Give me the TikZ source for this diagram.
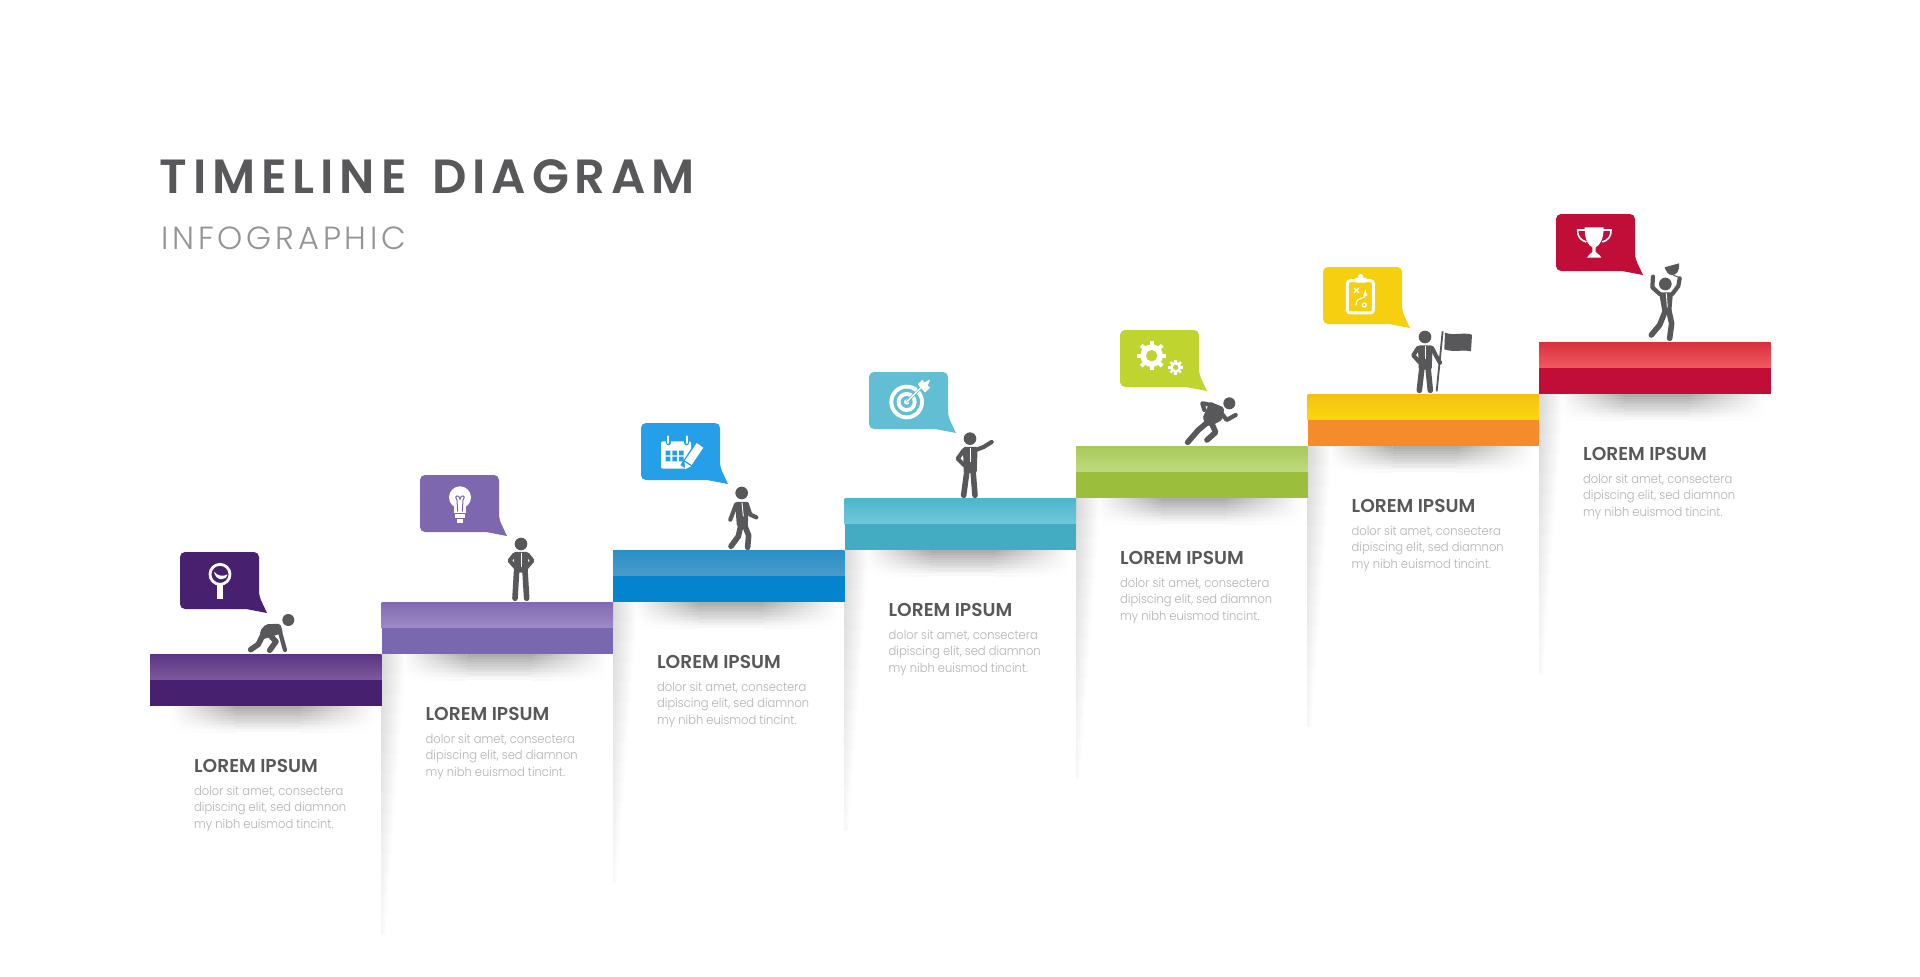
\documentclass[tikz,border=0pt]{standalone}
\usepackage{fontspec}
\setmainfont{Poppins}
\newfontfamily\titlefont[UprightFont=* SemiBold,LetterSpace=12.2]{Poppins}
\newfontfamily\subfont[UprightFont=* Light,LetterSpace=12]{Poppins}
\newfontfamily\headfont[UprightFont=* SemiBold]{Poppins}
\newfontfamily\blurbfont[UprightFont=* Light,FakeStretch=0.92]{Poppins}
\definecolor{figgray}{HTML}{58585A}
\definecolor{s1a}{HTML}{5B3585}\definecolor{s1b}{HTML}{7D5A9E}\definecolor{s1c}{HTML}{47206F}
\definecolor{s2a}{HTML}{8069B3}\definecolor{s2b}{HTML}{9D8CC4}\definecolor{s2c}{HTML}{7967B0}
\definecolor{s3a}{HTML}{2A8FC9}\definecolor{s3b}{HTML}{4A9CCA}\definecolor{s3c}{HTML}{0484CD}
\definecolor{s4a}{HTML}{4FB5CA}\definecolor{s4b}{HTML}{70C8DA}\definecolor{s4c}{HTML}{43ABC2}
\definecolor{s5a}{HTML}{A8C95A}\definecolor{s5b}{HTML}{BEDB7D}\definecolor{s5c}{HTML}{9BBF3C}
\definecolor{s6a}{HTML}{F6BF14}\definecolor{s6b}{HTML}{F9D90E}\definecolor{s6c}{HTML}{F68B2C}
\definecolor{s7a}{HTML}{D8303A}\definecolor{s7b}{HTML}{F25A62}\definecolor{s7c}{HTML}{C10E39}
\definecolor{b1}{HTML}{47206F}\definecolor{b2}{HTML}{7D68B0}\definecolor{b3}{HTML}{259FE8}
\definecolor{b4}{HTML}{62BED2}\definecolor{b5}{HTML}{BFD42E}\definecolor{b6}{HTML}{F5CF10}\definecolor{b7}{HTML}{C10E39}
\begin{document}
\begin{tikzpicture}[x=1pt,y=-1pt]
  \tikzset{ figleg/.style={draw=figgray,line width=5.6pt,line cap=round,line join=round},
    figarm/.style={draw=figgray,line width=4.2pt,line cap=round,line join=round},
    figtorso/.style={fill=figgray,rounded corners=2pt},
    figtie/.style={draw=white,line width=0.9pt},
    headtext/.style={anchor=base west,inner sep=0pt,text=figgray,font=\headfont\fontsize{18.6}{20}\selectfont},
    bodytext/.style={anchor=north west,inner sep=0pt,align=left,text=black!30,font=\blurbfont\fontsize{12.5}{16.7}\selectfont},
  }
  \useasboundingbox (0,0) rectangle (1920,977);
  \fill[white] (0,0) rectangle (1920,977);

  \node[anchor=base west,inner sep=0pt,text=figgray,font=\titlefont\fontsize{48}{50}\selectfont] (title) at (159.5,193) {TIMELINE\hspace{8.5pt} DIAGRAM};
  \node[anchor=base west,inner sep=0pt,text=black!42,font=\subfont\fontsize{32}{34}\selectfont] (subtitle) at (161,249) {INFOGRAPHIC};

  % the shadows first, the steps lie over them
  \foreach \i in {1,...,7}{
    \pgfmathsetmacro\sx{150+231.5*(\i-1)}
    \pgfmathsetmacro\sy{654-52*(\i-1)}
    \foreach \k in {0,...,9}{
      \pgfmathsetmacro\shv{32-3.3*\k}
      \pgfmathsetmacro\rowa{\sy+52+2.6*\k}
      \pgfmathsetmacro\rowb{\rowa+2.8}
      \shade[left color=white,right color=black!\shv] ({\sx+20},\rowa) rectangle ({\sx+85},\rowb);
      \fill[black!\shv] ({\sx+85},\rowa) rectangle ({\sx+150},\rowb);
      \shade[left color=black!\shv,right color=white] ({\sx+150},\rowa) rectangle ({\sx+226},\rowb);
    }
    \ifnum\i>1
      \foreach \k in {0,...,13}{
        \pgfmathsetmacro\slw{24-1.5*\k}
        \pgfmathsetmacro\slv{15-0.9*\k}
        \shade[left color=black!\slv,right color=white] (\sx,{\sy+52+20*\k}) rectangle ({\sx+\slw},{\sy+72.2+20*\k});
      }
    \fi
  }

  % the steps with their texts
  \foreach \i/\cA/\cB/\cC in {1/s1a/s1b/s1c,2/s2a/s2b/s2c,3/s3a/s3b/s3c,4/s4a/s4b/s4c,5/s5a/s5b/s5c,6/s6a/s6b/s6c,7/s7a/s7b/s7c}{
    \pgfmathsetmacro\sx{150+231.5*(\i-1)}
    \pgfmathsetmacro\sy{654-52*(\i-1)}
    \shade[top color=\cA,bottom color=\cB] (\sx,\sy) rectangle ({\sx+231.5},{\sy+26});
    \fill[\cC] (\sx,{\sy+26}) rectangle ({\sx+231.5},{\sy+52});
    \node[headtext] (head\i) at ({\sx+44},{\sy+118}) {LOREM IPSUM};
    \node[bodytext] (text\i) at ({\sx+44},{\sy+131.5}) {dolor sit amet, consectera\\dipiscing elit, sed diamnon\\my nibh euismod tincint.};
  }

  % the speech bubbles
  \foreach \bx/\by/\bc in {180/552/b1,420/475/b2,641/423/b3,869/372/b4,1120/330/b5,1323/267/b6,1556/214/b7}{
    \fill[\bc,rounded corners=5pt] (\bx,\by) -- ({\bx+79},\by) -- ({\bx+79},{\by+44}) [sharp corners] -- ({\bx+87},{\by+61}) -- ({\bx+66},{\by+57}) [rounded corners=5pt] -- (\bx,{\by+57}) -- cycle;
  }

  % step 1, magnifier and crawling man
  \begin{scope}[shift={(175,545)},scale=0.3333]
    \draw[white,line width=2.8pt] (135,88) circle (30);
    \fill[white] (117,80) .. controls (130,95) and (145,95) .. (157,88) .. controls (155,108) and (122,110) .. (117,80);
    \fill[white] (127,118) rectangle (143,163);
    \fill[figgray] (340,225) circle (18);
    \fill[figtorso] (255,258) -- (272,238) -- (316,236) -- (324,264) -- (285,276) -- (258,285) -- cycle;
    \draw[figarm] (312,250) -- (330,315);
    \draw[figleg] (268,262) -- (250,298) -- (227,314);
    \draw[figleg] (280,265) -- (303,290) -- (284,316);
  \end{scope}

  % step 2, lamp and standing man
  \begin{scope}[shift={(415,470)},scale=0.3333]
    \fill[white] (135,82) circle (33);
    \fill[white] (118,105) rectangle (152,128);
    \fill[white] (120,133) rectangle (150,144);
    \fill[white] (125,148) rectangle (145,158);
    \draw[b2,line width=1pt] (128,125) -- (126,90) .. controls (114,76) and (134,72) .. (135,88) .. controls (136,72) and (156,76) .. (144,90) -- (142,125);
    \fill[figgray] (318,222) circle (19);
    \fill[figtorso] (296,246) -- (340,246) -- (338,308) -- (298,308) -- cycle;
    \draw[figarm] (298,254) -- (284,272) -- (304,295);
    \draw[figarm] (338,254) -- (352,272) -- (332,295);
    \draw[figleg] (305,300) -- (300,385);
    \draw[figleg] (330,300) -- (335,385);
    \draw[figtie] (318,248) -- (318,290);
  \end{scope}

  % step 3, calendar and walking man
  \begin{scope}[shift={(635,418)},scale=0.3333]
    \fill[white,rounded corners=2pt] (78,70) rectangle (168,152);
    \fill[b3] (92,98) rectangle (106,112) (112,98) rectangle (126,112) (132,98) rectangle (146,112);
    \fill[b3] (92,116) rectangle (106,130) (112,116) rectangle (126,130) (132,116) rectangle (146,130);
    \draw[b3,line width=4.5pt,line cap=round] (100,55) -- (100,75) (155,55) -- (155,75);
    \draw[white,line width=2pt,line cap=round] (100,55) -- (100,75) (155,55) -- (155,75);
    \draw[b3,line width=11pt] (150,150) -- (195,82);
    \draw[white,line width=8pt] (160,134) -- (195,82);
    \fill[white] (150,154) -- (149,132) -- (168,145) -- cycle;
    \fill[figgray] (320,225) circle (19);
    \fill[figtorso] (300,252) -- (342,252) -- (338,328) -- (306,328) -- cycle;
    \draw[figarm] (336,260) -- (346,290) -- (364,298);
    \draw[figarm] (303,260) -- (286,305);
    \draw[figleg] (318,320) -- (310,355) -- (288,385);
    \draw[figleg] (328,320) -- (341,352) -- (338,388);
    \draw[figtie] (321,254) -- (325,295);
  \end{scope}

  % step 4, target and pointing man
  \begin{scope}[shift={(865,367)},scale=0.3333]
    \fill[white] (125,105) circle (52);
    \fill[b4] (125,105) circle (40);
    \fill[white] (125,105) circle (30);
    \fill[b4] (125,105) circle (18);
    \fill[white] (125,105) circle (8);
    \draw[b4,line width=2.6pt] (125,105) -- (172,58);
    \draw[white,line width=1.4pt] (125,105) -- (172,58);
    \fill[white] (158,52) -- (172,38) -- (178,46) -- (195,38) -- (188,56) -- (196,62) -- (180,76) -- cycle;
    \fill[figgray] (315,215) circle (19);
    \fill[figtorso] (294,240) -- (338,240) -- (335,318) -- (296,318) -- cycle;
    \draw[figarm] (332,249) -- (356,240) -- (380,225);
    \draw[figarm] (296,250) -- (278,275) -- (298,295);
    \draw[figleg] (306,310) -- (296,385);
    \draw[figleg] (324,310) -- (330,385);
    \draw[figtie] (317,242) -- (317,285);
  \end{scope}

  % step 5, gears and running man
  \begin{scope}[shift={(1115,325)},scale=0.3333]
    \foreach \cx/\cy/\rr/\rh/\tw in {110/92/34/17/4pt,182/127/17/8/2.6pt}{
      \fill[white] (\cx,\cy) circle (\rr);
      \foreach \a in {0,45,...,315}
        \draw[white,line width=\tw] (\cx,\cy) ++(\a:\rr*0.8) -- ++(\a:\rr*0.5);
      \fill[b5] (\cx,\cy) circle (\rh);
    }
    \fill[figgray] (343,235) circle (18);
    \fill[figtorso] (285,230) -- (328,248) -- (322,285) -- (282,306) -- (262,280) -- cycle;
    \draw[figarm] (290,240) -- (262,235) -- (268,255);
    \draw[figarm] (320,265) -- (335,285) -- (362,270);
    \draw[figleg] (280,290) -- (250,315) -- (218,352);
    \draw[figleg] (290,295) -- (302,322) -- (276,345);
  \end{scope}

  % step 6, plan on a board and man with a flag
  \begin{scope}[shift={(1320,262)},scale=0.3333]
    \draw[white,line width=3pt,rounded corners=3pt] (82,56) rectangle (160,153);
    \fill[white,rounded corners=1pt] (105,47) rectangle (140,62);
    \fill[white] (122,44) circle (8);
    \draw[white,line width=1.2pt] (102,78) -- (116,92) (116,78) -- (102,92);
    \draw[white,line width=1.2pt,-latex] (108,130) .. controls (108,100) and (136,115) .. (136,82);
    \draw[white,line width=1.2pt] (133,129) circle (6);
    \fill[figgray] (315,225) circle (19);
    \fill[figtorso] (294,250) -- (338,250) -- (335,323) -- (296,323) -- cycle;
    \draw[figarm] (294,258) -- (280,280) -- (298,300);
    \draw[figarm] (336,258) -- (350,285) -- (360,302);
    \draw[figleg] (306,315) -- (298,385);
    \draw[figleg] (324,315) -- (331,385);
    \draw[figtie] (316,252) -- (316,292);
    \draw[figgray,line width=1.8pt] (368,208) -- (350,388);
    \fill[figgray] (375,212) .. controls (400,222) and (430,210) .. (456,218) -- (453,268) .. controls (430,262) and (400,272) .. (373,262) -- cycle;
  \end{scope}

  % step 7, cup and man holding it up
  \begin{scope}[shift={(1553,210)},scale=0.3333]
    \fill[white] (95,52) -- (152,52) .. controls (152,90) and (140,105) .. (128,112) -- (128,126) -- (140,136) -- (145,143) -- (102,143) -- (107,136) -- (118,126) -- (118,112) .. controls (105,105) and (95,90) .. (95,52);
    \draw[white,line width=1.6pt] (96,60) -- (74,60) .. controls (72,80) and (85,92) .. (100,96);
    \draw[white,line width=1.6pt] (150,60) -- (174,60) .. controls (176,80) and (163,92) .. (148,96);
    \fill[figgray] (337,222) circle (19);
    \fill[figtorso] (318,247) -- (360,247) -- (354,315) -- (330,315) -- cycle;
    \draw[figarm] (320,252) -- (298,232) -- (300,200);
    \draw[figarm] (358,252) -- (376,228) -- (380,205);
    \draw[figleg] (338,300) -- (320,345) -- (295,375);
    \draw[figleg] (347,300) -- (356,340) -- (350,385);
    \draw[figtie] (340,250) -- (343,292);
    \fill[figgray] (335,172) -- (378,160) .. controls (380,185) and (370,195) .. (357,195) .. controls (345,195) and (340,185) .. (335,172);
    \draw[figgray,line width=1pt] (360,195) -- (385,205);
  \end{scope}
\end{tikzpicture}
\end{document}
